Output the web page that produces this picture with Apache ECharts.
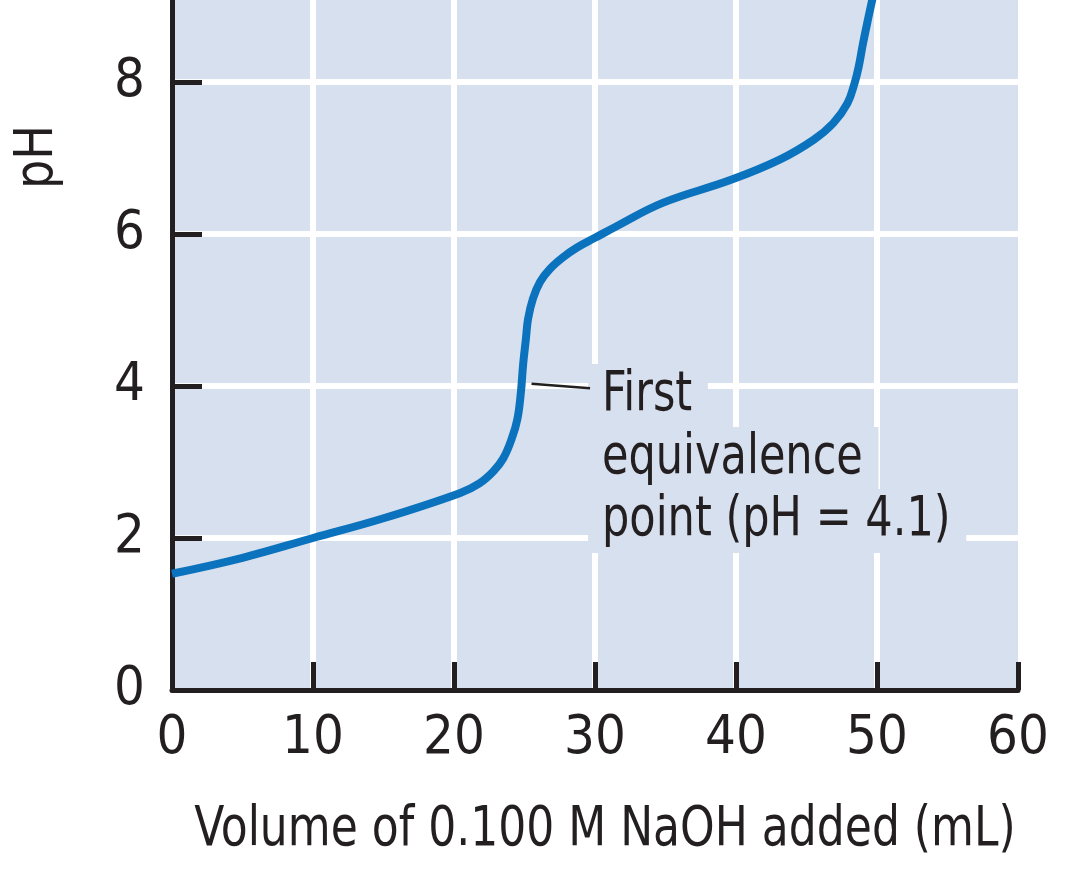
<!DOCTYPE html>
<html>
<head>
<meta charset="utf-8">
<script src="https://cdn.jsdelivr.net/npm/echarts@6/dist/echarts.min.js"></script>
<style>
  html, body { margin: 0; padding: 0; background: #ffffff; }
  #chart { width: 1069px; height: 883px; }
</style>
</head>
<body>
<div id="chart"></div>
<script>
// ---- data ----
const volumes  = [0, 5, 10, 15, 20.4, 21.8, 22.8, 23.5, 24.1, 24.5, 24.75, 24.9, 25.1, 25.25, 25.6, 26.1, 26.8, 27.7, 28.7, 30, 31.5, 34.8, 39.6, 43.1, 45.5, 46.9, 47.9, 48.4, 48.7, 49.0, 49.4, 49.6, 49.8];
const phValues = [1.53, 1.74, 2.0, 2.26, 2.59, 2.72, 2.88, 3.05, 3.31, 3.57, 3.93, 4.28, 4.62, 4.88, 5.15, 5.37, 5.54, 5.69, 5.82, 5.95, 6.1, 6.41, 6.71, 6.98, 7.24, 7.46, 7.72, 7.98, 8.2, 8.5, 8.86, 9.03, 9.2];
const xAxisTitle = 'Volume of 0.100 M NaOH added (mL)';
const yAxisTitle = 'pH';
const annotationLines = ['First', 'equivalence', 'point (pH = 4.1)'];
const leaderFrom = [25.5, 4.03];
const leaderTo = [29.65, 3.97];

const FONT = "'Liberation Sans Narrow', 'DejaVu Sans Condensed', 'Roboto Condensed', sans-serif";
const INK = '#231f20';
const PLOT_BG = '#d7e0ef';

const chart = echarts.init(document.getElementById('chart'), null, { renderer: 'canvas' });

const option = {
  animation: false,
  backgroundColor: '#ffffff',
  grid: {
    left: 172, right: 51, top: -4, bottom: 193,
    show: true, backgroundColor: PLOT_BG, borderWidth: 0
  },
  xAxis: {
    type: 'value', min: 0, max: 60, interval: 10,
    axisLine: { show: true, onZero: false, lineStyle: { color: INK, width: 5 } },
    axisTick: { show: true, inside: true, length: 28, lineStyle: { color: INK, width: 5 } },
    axisLabel: { fontFamily: FONT, fontSize: 54, color: INK, margin: 22 },
    splitLine: { show: true, showMinLine: false, showMaxLine: false, lineStyle: { color: '#ffffff', width: 6 } }
  },
  yAxis: {
    type: 'value', min: 0, max: 9.08, interval: 2,
    axisLine: { show: true, onZero: false, lineStyle: { color: INK, width: 5 } },
    axisTick: { show: true, inside: true, length: 30, lineStyle: { color: INK, width: 5 } },
    axisLabel: { fontFamily: FONT, fontSize: 54, color: INK, margin: 27, showMaxLabel: false },
    splitLine: { show: true, showMinLine: false, showMaxLine: false, lineStyle: { color: '#ffffff', width: 6 } }
  },
  series: [{
    type: 'line',
    data: volumes.map((v, i) => [v, phValues[i]]),
    smooth: 0.4,
    symbol: 'none',
    clip: false,
    lineStyle: { color: '#0b72bd', width: 8 },
    z: 3
  }]
};
chart.setOption(option);

// annotation anchored via the chart's own coordinate conversion
const a = chart.convertToPixel({ gridIndex: 0 }, leaderFrom);
const b = chart.convertToPixel({ gridIndex: 0 }, leaderTo);
const lineTops = [364, 427, 489];
const graphics = [
  {
    type: 'line', z: 10,
    shape: { x1: a[0], y1: a[1], x2: b[0], y2: b[1] },
    style: { stroke: INK, lineWidth: 2.5 }
  },
  {
    type: 'text', z: 10,
    x: 38, y: 157, rotation: Math.PI / 2, scaleX: 0.95,
    style: { text: yAxisTitle, fontFamily: FONT, fontSize: 54, fill: INK, align: 'center', verticalAlign: 'middle' }
  },
  {
    type: 'text', z: 10,
    x: 605, y: 831, scaleX: 0.89,
    style: { text: xAxisTitle, fontFamily: FONT, fontSize: 55, fill: INK, align: 'center', verticalAlign: 'middle' }
  }
];
annotationLines.forEach((t, i) => {
  graphics.push({
    type: 'text', z: 9,
    x: b[0] - 2, y: lineTops[i], scaleX: 0.87,
    style: {
      text: t, fontFamily: FONT, fontSize: 55, fill: INK,
      lineHeight: 64, align: 'left', verticalAlign: 'top',
      backgroundColor: PLOT_BG, padding: [0, 18, 0, 16]
    }
  });
});
chart.setOption({ graphic: graphics });
</script>
</body>
</html>
